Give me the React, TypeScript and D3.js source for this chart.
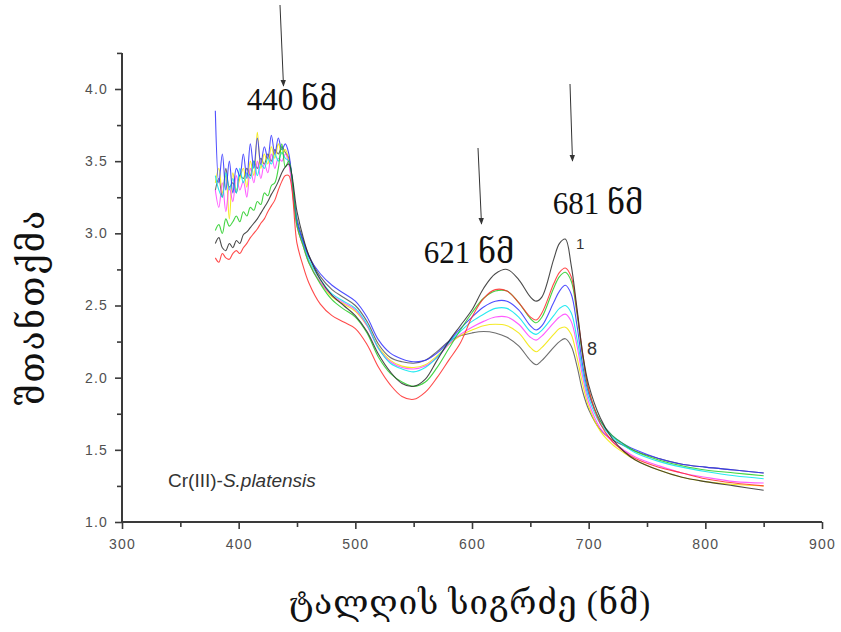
import React, { useEffect, useRef } from "react";
import * as d3 from "d3";

const W = 841;
const H = 632;

// wavelengths (nm)
const noisyWl = [380, 383, 386, 389, 392, 395, 398, 401, 404, 407, 410, 413, 416, 419, 422, 425, 428, 431, 434, 437, 440, 443];
const smoothWl = [450, 455, 460, 470, 480, 490, 500, 510, 520, 530, 540, 550, 560, 570, 580, 590, 600, 610, 620, 630, 640, 650, 655, 660, 670, 675, 680, 685, 690, 695, 700, 710, 720, 730, 740, 760, 780, 800, 825, 850];

// absorbance, series 1..8
const s1Noisy = [2.93, 2.97, 2.9, 2.88, 2.93, 2.9, 2.95, 2.93, 2.99, 3.01, 3.04, 3.07, 3.1, 3.14, 3.18, 3.22, 3.27, 3.31, 3.36, 3.42, 3.46, 3.48];
const s1Smooth = [3.15, 2.98, 2.85, 2.68, 2.57, 2.5, 2.43, 2.32, 2.16, 2.04, 1.96, 1.94, 1.99, 2.12, 2.25, 2.36, 2.47, 2.62, 2.72, 2.75, 2.68, 2.56, 2.53, 2.56, 2.82, 2.93, 2.96, 2.78, 2.48, 2.16, 1.95, 1.72, 1.58, 1.49, 1.43, 1.36, 1.31, 1.28, 1.25, 1.22];

const s2Noisy = [2.83, 2.8, 2.86, 2.83, 2.82, 2.86, 2.88, 2.86, 2.9, 2.93, 2.97, 3.0, 3.03, 3.07, 3.1, 3.15, 3.19, 3.23, 3.3, 3.36, 3.4, 3.4];
const s2Smooth = [2.93, 2.78, 2.66, 2.51, 2.43, 2.385, 2.34, 2.23, 2.07, 1.95, 1.87, 1.85, 1.9, 2.0, 2.12, 2.24, 2.42, 2.55, 2.61, 2.6, 2.52, 2.42, 2.4, 2.45, 2.65, 2.73, 2.76, 2.7, 2.46, 2.16, 1.92, 1.68, 1.56, 1.49, 1.44, 1.38, 1.34, 1.3, 1.27, 1.25];

const s3Noisy = [3.02, 3.06, 3.0, 3.1, 3.05, 3.08, 3.12, 3.08, 3.15, 3.12, 3.18, 3.16, 3.22, 3.2, 3.28, 3.26, 3.33, 3.35, 3.45, 3.62, 3.46, 3.5];
const s3Smooth = [3.05, 2.92, 2.8, 2.65, 2.54, 2.475, 2.42, 2.31, 2.14, 2.03, 1.97, 1.94, 1.97, 2.07, 2.2, 2.33, 2.45, 2.55, 2.6, 2.6, 2.52, 2.41, 2.38, 2.42, 2.62, 2.7, 2.73, 2.67, 2.44, 2.14, 1.91, 1.7, 1.6, 1.54, 1.49, 1.43, 1.39, 1.36, 1.34, 1.32];

const s4Noisy = [3.85, 3.35, 3.55, 3.3, 3.5, 3.28, 3.45, 3.4, 3.55, 3.38, 3.62, 3.45, 3.66, 3.48, 3.6, 3.52, 3.68, 3.55, 3.66, 3.58, 3.62, 3.55];
const s4Smooth = [3.08, 2.95, 2.84, 2.72, 2.64, 2.585, 2.53, 2.42, 2.26, 2.17, 2.13, 2.11, 2.12, 2.17, 2.25, 2.34, 2.42, 2.49, 2.53, 2.53, 2.47, 2.36, 2.33, 2.36, 2.52, 2.6, 2.64, 2.58, 2.36, 2.08, 1.89, 1.7, 1.6, 1.54, 1.5, 1.44, 1.4, 1.38, 1.36, 1.34];

const s5Noisy = [3.4, 3.3, 3.25, 3.42, 3.3, 3.38, 3.28, 3.45, 3.35, 3.42, 3.38, 3.5, 3.4, 3.48, 3.45, 3.52, 3.48, 3.55, 3.5, 3.56, 3.52, 3.5];
const s5Smooth = [3.08, 2.94, 2.82, 2.68, 2.58, 2.53, 2.48, 2.37, 2.2, 2.1, 2.06, 2.04, 2.07, 2.14, 2.24, 2.32, 2.39, 2.44, 2.48, 2.48, 2.42, 2.32, 2.3, 2.33, 2.43, 2.48, 2.5, 2.45, 2.27, 2.04, 1.86, 1.68, 1.59, 1.53, 1.48, 1.42, 1.38, 1.35, 1.32, 1.3];

const s6Noisy = [3.3, 3.18, 3.35, 3.15, 3.32, 3.22, 3.4, 3.3, 3.36, 3.25, 3.45, 3.35, 3.5, 3.38, 3.48, 3.42, 3.55, 3.45, 3.52, 3.5, 3.55, 3.48];
const s6Smooth = [3.05, 2.92, 2.8, 2.66, 2.57, 2.52, 2.47, 2.36, 2.2, 2.11, 2.07, 2.06, 2.08, 2.14, 2.23, 2.3, 2.35, 2.39, 2.42, 2.42, 2.37, 2.28, 2.26, 2.29, 2.38, 2.42, 2.44, 2.39, 2.22, 2.0, 1.83, 1.65, 1.56, 1.5, 1.45, 1.39, 1.34, 1.31, 1.28, 1.27];

const s7Noisy = [3.35, 3.45, 3.28, 3.4, 3.1, 3.42, 3.3, 3.38, 3.45, 3.32, 3.5, 3.4, 3.7, 3.45, 3.55, 3.48, 3.6, 3.52, 3.62, 3.55, 3.58, 3.5];
const s7Smooth = [3.05, 2.92, 2.8, 2.66, 2.56, 2.51, 2.46, 2.36, 2.21, 2.12, 2.08, 2.07, 2.09, 2.15, 2.23, 2.29, 2.33, 2.36, 2.37, 2.36, 2.31, 2.21, 2.18, 2.21, 2.3, 2.34, 2.35, 2.3, 2.14, 1.95, 1.8, 1.63, 1.54, 1.48, 1.43, 1.36, 1.31, 1.28, 1.26, 1.25];

const s8Noisy = [3.3, 3.38, 3.25, 3.45, 3.32, 3.35, 3.28, 3.4, 3.38, 3.45, 3.4, 3.5, 3.45, 3.52, 3.48, 3.55, 3.5, 3.58, 3.55, 3.6, 3.56, 3.52];
const s8Smooth = [3.1, 2.96, 2.85, 2.7, 2.61, 2.555, 2.5, 2.39, 2.23, 2.14, 2.11, 2.1, 2.12, 2.18, 2.25, 2.29, 2.31, 2.32, 2.31, 2.28, 2.22, 2.12, 2.09, 2.12, 2.21, 2.25, 2.27, 2.22, 2.08, 1.9, 1.78, 1.64, 1.57, 1.53, 1.49, 1.44, 1.4, 1.38, 1.36, 1.34];

const seriesColors = ["#2a2a2a", "#ff2a2a", "#22cc22", "#3030ff", "#00e5ee", "#ff40ff", "#f2e600", "#555555"];

const xTickValues = [300, 400, 500, 600, 700, 800, 900];
const xMinorValues = [350, 450, 550, 650, 750, 850];
const yTickValues = [1.0, 1.5, 2.0, 2.5, 3.0, 3.5, 4.0];
const yMinorValues = [1.25, 1.75, 2.25, 2.75, 3.25, 3.75, 4.25];

const yTitle = "შთანთქმა";
const xTitle = "ტალღის სიგრძე (ნმ)";
const peakLabels = ["440 ნმ", "621 ნმ", "681 ნმ"];

export default function App() {
  const ref = useRef<SVGSVGElement>(null);

  useEffect(() => {
    const svg = d3.select(ref.current);
    svg.selectAll("*").remove();

    const x = d3.scaleLinear().domain([300, 900]).range([122, 822]);
    const y = d3.scaleLinear().domain([1, 4]).range([522, 89]);

    const wl = noisyWl.concat(smoothWl);
    const series = [
      s8Noisy.concat(s8Smooth),
      s7Noisy.concat(s7Smooth),
      s6Noisy.concat(s6Smooth),
      s5Noisy.concat(s5Smooth),
      s4Noisy.concat(s4Smooth),
      s3Noisy.concat(s3Smooth),
      s2Noisy.concat(s2Smooth),
      s1Noisy.concat(s1Smooth),
    ];
    const colors = seriesColors.slice().reverse();

    const line = d3
      .line<number>()
      .x((_, i) => x(wl[i]))
      .y((d) => y(d))
      .curve(d3.curveCatmullRom.alpha(0.5));

    const g = svg.append("g");
    series.forEach((s, i) => {
      g.append("path")
        .attr("d", line(s) as string)
        .attr("fill", "none")
        .attr("stroke", colors[i])
        .attr("stroke-width", 1.1)
        .attr("stroke-opacity", 0.85);
    });

    const axisColor = "#3a3a3a";
    const labelFont = "'Liberation Sans', Arial, sans-serif";

    // X axis
    const xAxis = svg
      .append("g")
      .attr("transform", `translate(0,${y(1)})`)
      .call(
        d3
          .axisBottom(x)
          .tickValues(xTickValues)
          .tickSize(7)
          .tickPadding(10)
          .tickFormat((d) => d3.format("d")(d as number))
      );
    svg
      .append("g")
      .attr("transform", `translate(0,${y(1)})`)
      .call(d3.axisBottom(x).tickValues(xMinorValues).tickSize(5).tickFormat(() => ""))
      .call((a) => a.select(".domain").remove());

    // Y axis
    const yAxis = svg
      .append("g")
      .attr("transform", `translate(${x(300)},0)`)
      .call(
        d3
          .axisLeft(d3.scaleLinear().domain([1, 4.25]).range([522, y(4.25)]))
          .tickValues(yTickValues)
          .tickSize(7)
          .tickPadding(7)
          .tickFormat((d) => d3.format(".1f")(d as number))
      );
    svg
      .append("g")
      .attr("transform", `translate(${x(300)},0)`)
      .call(d3.axisLeft(y).tickValues(yMinorValues).tickSize(5).tickFormat(() => ""))
      .call((a) => a.select(".domain").remove());

    svg.selectAll(".domain").attr("stroke", axisColor).attr("stroke-width", 2);
    svg.selectAll(".tick line").attr("stroke", axisColor).attr("stroke-width", 1.6);
    [xAxis, yAxis].forEach((a) =>
      a
        .selectAll("text")
        .attr("fill", "#505050")
        .attr("font-size", 14)
        .attr("font-family", labelFont)
        .attr("letter-spacing", 1.2)
    );
    xAxis.select(".domain").attr("d", `M${x(300)},0H${x(900)}`);
    yAxis.select(".domain").attr("d", `M0,${y(1)}V${y(4.25)}`);

    const serif = "'Liberation Serif', 'DejaVu Serif', serif";

    // Titles
    svg
      .append("text")
      .attr("transform", `translate(44,${307}) rotate(-90)`)
      .attr("text-anchor", "middle")
      .attr("font-family", serif)
      .attr("font-size", 35)
      .attr("letter-spacing", 2)
      .attr("fill", "#111")
      .text(yTitle);
    svg
      .append("text")
      .attr("x", 470)
      .attr("y", 614)
      .attr("text-anchor", "middle")
      .attr("font-family", serif)
      .attr("font-size", 33)
      .attr("letter-spacing", 1)
      .attr("fill", "#111")
      .text(xTitle);

    // Peak annotations
    const peakPos = [
      { lx: 292, ly: 110, ax1: 280, ay1: 5, ax2: 283.5, ay2: 86 },
      { lx: 469, ly: 263, ax1: 478, ay1: 148, ax2: 481.5, ay2: 224 },
      { lx: 598, ly: 214, ax1: 570, ay1: 84, ax2: 572.5, ay2: 161 },
    ];
    const defs = svg.append("defs");
    defs
      .append("marker")
      .attr("id", "ah")
      .attr("viewBox", "0 0 10 10")
      .attr("refX", 9)
      .attr("refY", 5)
      .attr("markerWidth", 7)
      .attr("markerHeight", 7)
      .attr("orient", "auto")
      .append("path")
      .attr("d", "M0,1 L10,5 L0,9 Z")
      .attr("fill", "#333");
    peakPos.forEach((p, i) => {
      svg
        .append("line")
        .attr("x1", p.ax1)
        .attr("y1", p.ay1)
        .attr("x2", p.ax2)
        .attr("y2", p.ay2)
        .attr("stroke", "#333")
        .attr("stroke-width", 1)
        .attr("marker-end", "url(#ah)");
      svg
        .append("text")
        .attr("x", p.lx)
        .attr("y", p.ly)
        .attr("text-anchor", "middle")
        .attr("font-family", serif)
        .attr("font-size", 31)
        .attr("fill", "#111")
        .text(peakLabels[i]);
    });

    // series numbers
    svg
      .append("text")
      .attr("x", 576)
      .attr("y", 249)
      .attr("font-family", labelFont)
      .attr("font-size", 15)
      .attr("fill", "#333")
      .text("1");
    svg
      .append("text")
      .attr("x", 587)
      .attr("y", 355)
      .attr("font-family", labelFont)
      .attr("font-size", 18)
      .attr("fill", "#333")
      .text("8");

    // sample label
    const t = svg
      .append("text")
      .attr("x", 168)
      .attr("y", 487)
      .attr("font-family", labelFont)
      .attr("font-size", 19)
      .attr("fill", "#333");
    t.append("tspan").text("Cr(III)-");
    t.append("tspan").attr("font-style", "italic").text("S.platensis");
  }, []);

  return (
    <svg
      ref={ref}
      width={W}
      height={H}
      style={{ position: "absolute", left: 0, top: 0, background: "#fff" }}
    />
  );
}
